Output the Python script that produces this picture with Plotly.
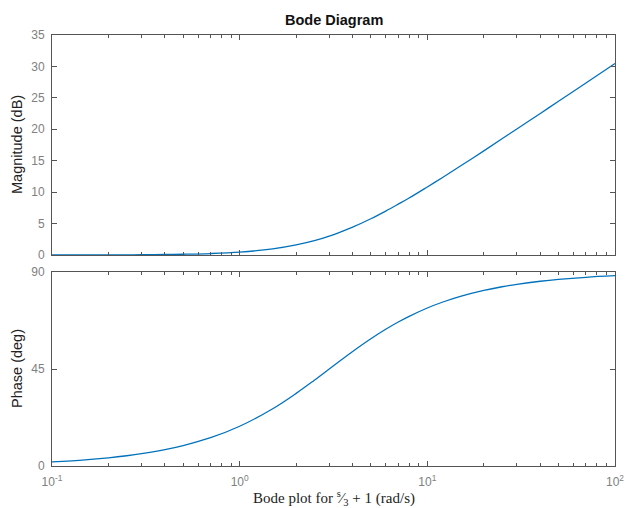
import plotly.graph_objects as go

# Frequencies (rad/s) and values
freq = [0.1, 0.15, 0.2, 0.25, 0.3, 0.4, 0.5, 0.7, 1.0, 1.5, 2.0, 2.5, 3.0, 3.5, 4.0, 5.0, 6.0, 7.0, 8.0,
        10.0, 12.0, 15.0, 20.0, 25.0, 30.0, 40.0, 50.0, 70.0, 100.0]
magnitude_db = [0.005, 0.011, 0.019, 0.030, 0.043, 0.077, 0.12, 0.23, 0.46, 0.97, 1.60, 2.27, 3.01, 3.75,
                4.44, 5.77, 6.99, 8.09, 9.07, 10.83, 12.30, 14.15, 16.57, 18.49, 20.04, 22.52, 24.45, 27.37, 30.47]
phase_deg = [1.91, 2.86, 3.81, 4.76, 5.71, 7.59, 9.46, 13.13, 18.43, 26.57, 33.69, 39.81, 45.0, 49.40,
             53.13, 59.04, 63.43, 66.80, 69.44, 73.30, 75.96, 78.69, 81.47, 83.16, 84.29, 85.71, 86.57, 87.55, 88.28]

x_tickvals = [0.1, 1, 10, 100]
x_ticktext = ["10<sup>-1</sup>", "10<sup>0</sup>", "10<sup>1</sup>", "10<sup>2</sup>"]
x_minor_vals = [m * d for d in (0.1, 1, 10) for m in range(2, 10)]
mag_ticks = [0, 5, 10, 15, 20, 25, 30, 35]
phase_ticks = [0, 45, 90]

line_color = "#0072BD"
axis_color = "#555555"
label_color = "#808080"
font_family = "Liberation Sans, Arial, sans-serif"

fig = go.Figure()
fig.add_trace(go.Scatter(x=freq, y=magnitude_db, mode="lines", line=dict(color=line_color, width=1.3, shape="spline"),
                         xaxis="x", yaxis="y", showlegend=False))
fig.add_trace(go.Scatter(x=freq, y=phase_deg, mode="lines", line=dict(color=line_color, width=1.3, shape="spline"),
                         xaxis="x2", yaxis="y2", showlegend=False))

common_x = dict(type="log", range=[-1, 2], showgrid=False, zeroline=False, showline=True, linecolor=axis_color,
                linewidth=1, mirror="ticks", ticks="inside", ticklen=5, tickcolor=axis_color,
                tickvals=x_tickvals, ticktext=x_ticktext, ticklabeloverflow="allow", ticklabelstandoff=5,
                minor=dict(ticks="inside", ticklen=3, tickcolor=axis_color, showgrid=False, tickvals=x_minor_vals),
                tickfont=dict(family=font_family, size=12, color=label_color))
common_y = dict(showgrid=False, zeroline=False, showline=True, linecolor=axis_color, linewidth=1,
                mirror="ticks", ticks="inside", ticklen=5, tickcolor=axis_color, ticklabelstandoff=4,
                tickfont=dict(family=font_family, size=12, color=label_color))

top_dom = [(466 - 255) / 431, 1.0]
bot_dom = [0.0, (466 - 272) / 431]

fig.update_layout(
    width=625, height=508,
    margin=dict(l=52, r=10, t=35, b=42, autoexpand=False),
    paper_bgcolor="white", plot_bgcolor="white",
    font=dict(family=font_family, color="#222222"),
    xaxis=dict(**common_x, anchor="y", showticklabels=False),
    yaxis=dict(**common_y, domain=top_dom, range=[0, 35], tickvals=mag_ticks, anchor="x"),
    xaxis2=dict(**common_x, anchor="y2", showticklabels=True),
    yaxis2=dict(**common_y, domain=bot_dom, range=[0, 90], tickvals=phase_ticks, anchor="x2"),
    annotations=[
        dict(text="<b>Bode Diagram</b>", x=0.5, y=1, xref="paper", yref="paper", xanchor="center",
             yanchor="bottom", yshift=5, showarrow=False, font=dict(family=font_family, size=14.5, color="#111111")),
        dict(text="Magnitude (dB)", x=0, y=(top_dom[0] + top_dom[1]) / 2, xref="paper", yref="paper",
             xshift=-35, textangle=-90, showarrow=False, xanchor="center", yanchor="middle",
             font=dict(family=font_family, size=14.5, color="#222222")),
        dict(text="Phase (deg)", x=0, y=(bot_dom[0] + bot_dom[1]) / 2, xref="paper", yref="paper",
             xshift=-35, textangle=-90, showarrow=False, xanchor="center", yanchor="middle",
             font=dict(family=font_family, size=14.5, color="#222222")),
        dict(text="Bode plot for <sup>s</sup>\u2044<sub>3</sub> + 1 (rad/s)", x=0.5, y=0, xref="paper", yref="paper",
             xanchor="center", yanchor="top", yshift=-20, showarrow=False,
             font=dict(family="Liberation Serif, Times New Roman, serif", size=15, color="#222222")),
    ],
)

fig.write_html("out.html", config={"displayModeBar": False},
               post_script="document.body.style.margin='0';document.body.style.overflow='hidden';")
